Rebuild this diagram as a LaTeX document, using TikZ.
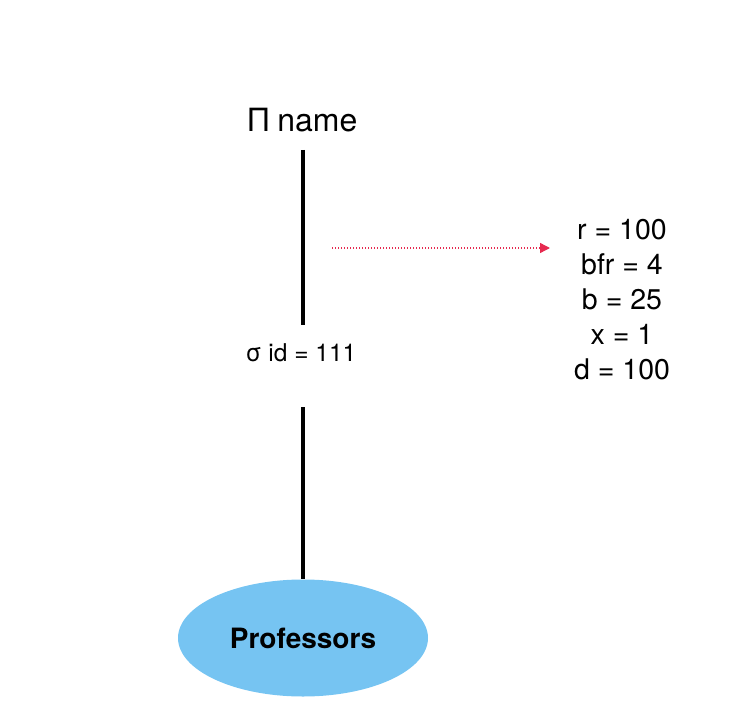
\documentclass[tikz,border=0pt]{standalone}
\usepackage{fontspec}
\setmainfont{TeX Gyre Heros}
\usetikzlibrary{arrows.meta,shapes.geometric}
\definecolor{profblue}{HTML}{76C4F2}
\definecolor{arrred}{HTML}{E62A50}
\tikzset{
  x=1pt,y=1pt,
  optext/.style={font=\fontsize{32}{36}\selectfont, inner sep=0pt},
  seltext/.style={font=\fontsize{24.5}{28}\selectfont, inner sep=0pt},
  stats/.style={font=\fontsize{28.5}{35}\selectfont, align=center, inner sep=0pt},
  tree/.style={line width=4pt},
  relation/.style={ellipse, fill=profblue, minimum width=250pt, minimum height=117pt, inner sep=0pt, font=\bfseries\fontsize{28}{32}\selectfont},
  costarrow/.style={arrred, line width=1.4pt, dash pattern=on 1.4pt off 1.6pt, -{Triangle[length=10pt,width=10pt]}}
}
\begin{document}
\begin{tikzpicture}
\useasboundingbox (0,0) rectangle (736,-714);
\node[optext] (proj) at (303,-120) {Π name};
\node[seltext] (sel) at (301,-353) {σ id = 111};
\node[relation] (prof) at (303,-638) {Professors};
\node[stats] (info) at (622,-300) {r = 100\\bfr = 4\\b = 25\\x = 1\\d = 100};
\coordinate (t1) at (303,-150);
\coordinate (t2) at (303,-325);
\coordinate (b1) at (303,-407);
\coordinate (a1) at (332,-248);
\coordinate (a2) at (550,-248);
\draw[tree] (t1) -- (t2);
\draw[tree] (b1) -- (prof.north);
\draw[costarrow] (a1) -- (a2);
\end{tikzpicture}
\end{document}
